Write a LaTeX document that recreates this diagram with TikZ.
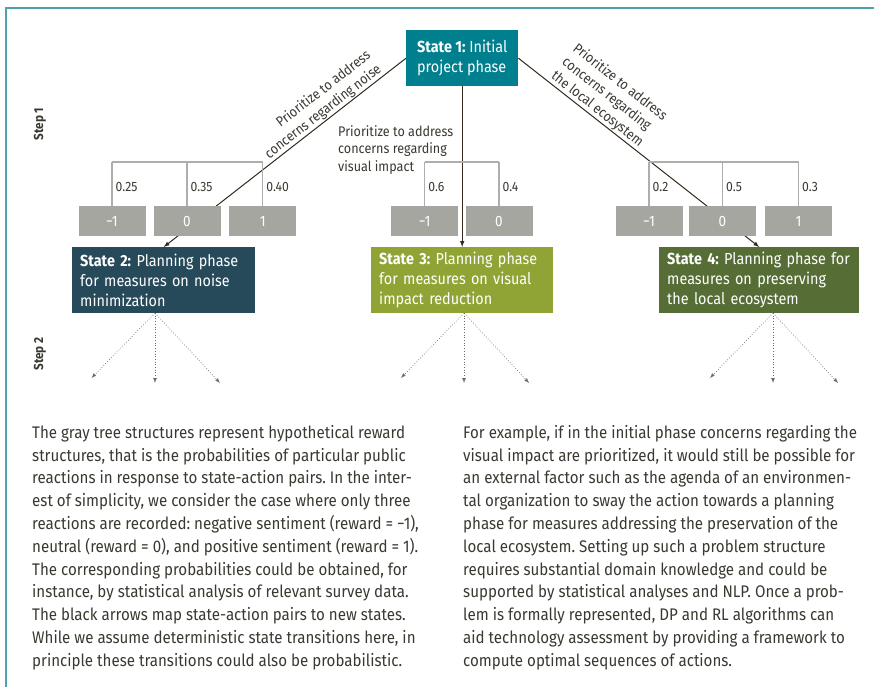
\documentclass[tikz,border=0pt]{standalone}
\usepackage{fontspec}
\setmainfont{Fira Sans}[FakeStretch=0.9]
\frenchspacing
\usetikzlibrary{arrows}
\usetikzlibrary{positioning}
\definecolor{FrameTeal}{HTML}{4AA3AF}
\definecolor{StateTeal}{HTML}{00808E}
\definecolor{StateBlue}{HTML}{274A5B}
\definecolor{StateOlive}{HTML}{90A436}
\definecolor{StateGreen}{HTML}{566E35}
\definecolor{RewardGray}{HTML}{A6A6A1}
\definecolor{TreeGray}{HTML}{AEAEAE}
\definecolor{ActionDark}{HTML}{33291C}
\definecolor{DarkText}{HTML}{3A3830}
\tikzset{
  state/.style={fill=#1, text=white, align=left, anchor=north west,
    inner xsep=8pt, inner ysep=0pt, minimum height=66pt,
    font=\fontsize{16}{20}\selectfont},
  reward/.style={fill=RewardGray, text=white, minimum width=67pt,
    minimum height=30pt, inner sep=0pt, font=\fontsize{15}{18}\selectfont},
  tree/.style={draw=TreeGray, line width=1.4pt},
  prob/.style={right, text=DarkText, inner sep=3pt, font=\fontsize{13.5}{16}\selectfont},
  action/.style={draw=ActionDark, line width=1pt, -latex},
  actlabel/.style={text=DarkText, inner sep=1pt, font=\fontsize{14}{17.5}\selectfont},
  next/.style={draw=ActionDark!70, dotted, line width=0.7pt, -latex},
  steplabel/.style={rotate=90, text=DarkText, font=\fontsize{13}{16}\selectfont\bfseries},
  body/.style={anchor=north west, align=left, inner sep=0pt, text=DarkText,
    font=\fontsize{16.8}{22.8}\selectfont}
}

\begin{document}
\begin{tikzpicture}[x=1pt, y=-1pt]
  \useasboundingbox (0,0) rectangle (874,687);

  % frame
  \draw[FrameTeal, line width=2pt] (874,8.5) -- (5.5,8.5) -- (5.5,687);

  % states
  \node[state=StateTeal, minimum width=112pt, minimum height=56pt] (s1) at (406,30)
    {\textbf{State 1:} Initial\\project phase};
  \node[state=StateBlue, text width=167pt] (s2) at (72,247)
    {\textbf{State 2:} Planning phase\\for measures on noise\\minimization};
  \node[state=StateOlive, text width=166pt] (s3) at (371,247)
    {\textbf{State 3:} Planning phase\\for measures on visual\\impact reduction};
  \node[state=StateGreen, text width=184pt] (s4) at (659,247)
    {\textbf{State 4:} Planning phase for\\measures on preserving\\the local ecosystem};

  % actions
  \draw[action] (s1.west) -- node[actlabel, sloped, above, pos=0.32, align=right]
    {Prioritize to address\\concerns regarding noise} (s2.north);
  \draw[action] (s1.south) -- (s3.north);
  \draw[action] (s1.east) -- node[actlabel, sloped, above, pos=0.31, align=left]
    {Prioritize to address\\concerns regarding\\the local ecosystem} (s4.north);
  \node[actlabel, align=left, anchor=north west] (a3) at (337,124)
    {Prioritize to address\\concerns regarding\\visual impact};

  % reward trees
  \foreach \name/\x/\r/\p in {r21/112/{−1}/0.25, r22/187/0/0.35, r23/262.7/1/0.40,
      r31/424.7/{−1}/0.6, r32/499/0/0.4,
      r41/649/{−1}/0.2, r42/722.5/0/0.5, r43/798.5/1/0.3}{%
    \node[reward] (\name) at (\x,221) {\r};
    \draw[tree] (\name.north) -- node[prob, pos=0.43] {\p} ++(0,-44);
  }
  \draw[tree] (r21.north |- 0,162) -- (r23.north |- 0,162);
  \draw[tree] (r31.north |- 0,162) -- (r32.north |- 0,162);
  \draw[tree] (r41.north |- 0,162) -- (r43.north |- 0,162);

  % step 2
  \foreach \s/\ox/\lx/\rx in {2/155/91.5/220, 3/464/401/529, 4/773/710/838}{%
    \coordinate (o\s) at (\ox,313);
    \coordinate (e\s l) at (\lx,378);
    \coordinate (e\s m) at (\ox,383);
    \coordinate (e\s r) at (\rx,383);
    \draw[next] (o\s) -- (e\s l);
    \draw[next] (o\s) -- (e\s m);
    \draw[next] (o\s) -- (e\s r);
  }

  \node[steplabel] (step1) at (40,124) {Step 1};
  \node[steplabel] (step2) at (40,354) {Step 2};

  % caption text
  \node[body] (txtl) at (32,425)
    {The gray tree structures represent hypothetical reward\\
     structures, that is the probabilities of particular public\\
     reactions in response to state-action pairs. In the inter-\\
     est of simplicity, we consider the case where only three\\
     reactions are recorded: negative sentiment (reward = −1),\\
     neutral (reward = 0), and positive sentiment (reward = 1).\\
     The corresponding probabilities could be obtained, for\\
     instance, by statistical analysis of relevant survey data.\\
     The black arrows map state-action pairs to new states.\\
     While we assume deterministic state transitions here, in\\
     principle these transitions could also be probabilistic.};
  \node[body] (txtr) at (463,425)
    {For example, if in the initial phase concerns regarding the\\
     visual impact are prioritized, it would still be possible for\\
     an external factor such as the agenda of an environmen-\\
     tal organization to sway the action towards a planning\\
     phase for measures addressing the preservation of the\\
     local ecosystem. Setting up such a problem structure\\
     requires substantial domain knowledge and could be\\
     supported by statistical analyses and NLP. Once a prob-\\
     lem is formally represented, DP and RL algorithms can\\
     aid technology assessment by providing a framework to\\
     compute optimal sequences of actions.};
\end{tikzpicture}
\end{document}
